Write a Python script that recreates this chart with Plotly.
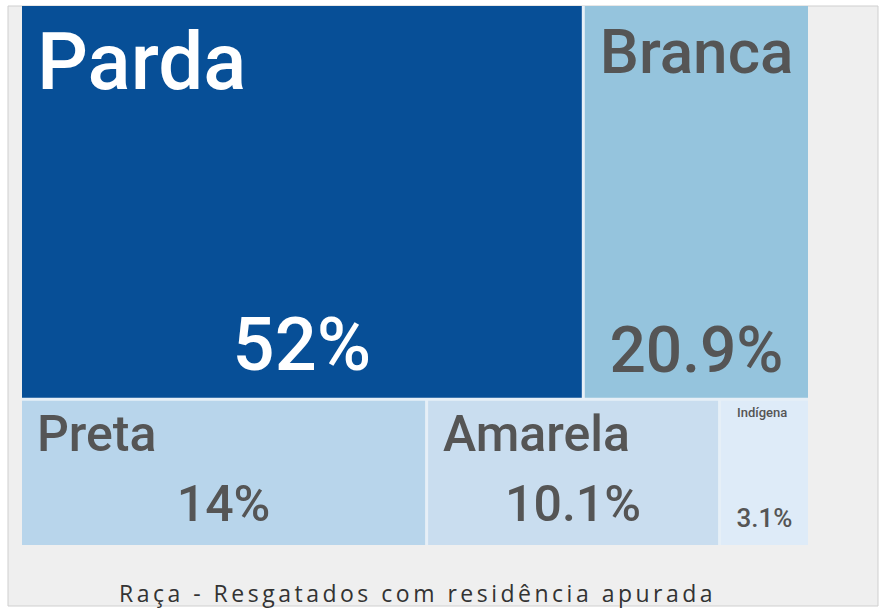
import plotly.graph_objects as go

# ---- data ----
categories = ["Parda", "Branca", "Preta", "Amarela", "Indígena"]
values = [52.0, 20.9, 14.0, 10.1, 3.1]
value_labels = ["52%", "20.9%", "14%", "10.1%", "3.1%"]
rows = ["top", "top", "bottom", "bottom", "bottom"]
colors = ["#074f97", "#95c4dd", "#b8d5eb", "#c9ddef", "#deebf8"]
text_colors = ["#ffffff", "#555555", "#555555", "#555555", "#555555"]
label_sizes = [80, 62, 50, 50, 13]
value_sizes = [74, 64, 50, 50, 26]
title_text = "Raça - Resgatados com residência apurada"

W, H = 885, 609
root = "root"
ids = [root, "top", "bottom"] + categories
parents = ["", root, root] + [r for r in rows]
vals = [0, 0, 0] + values
gap_color = "#e6eff7"
clear = "rgba(0,0,0,0)"
FONT = "Roboto, Arial, sans-serif"


def dom(top_px, bottom_px):
    return dict(x=[22 / W, 808 / W], y=[1 - bottom_px / H, 1 - top_px / H])


common = dict(
    ids=ids,
    labels=[""] * 3 + categories,
    parents=parents,
    values=vals,
    branchvalues="remainder",
    sort=False,
    tiling=dict(packing="dice-slice", pad=3),
    pathbar=dict(visible=False),
    hoverinfo="skip",
)

# label prefixes: small left indent
pad_big = "<span style='font-size:48px'>&nbsp;</span>"
label_templates = ["", "", ""] + [
    (pad_big if s > 40 else "&nbsp;" * 4) + "%{label}" for s in label_sizes
]

fig = go.Figure()
# tiles
fig.add_trace(go.Treemap(
    **common,
    domain=dom(6, 545),
    marker=dict(colors=[gap_color] * 3 + colors,
                line=dict(width=0, color=gap_color),
                pad=dict(t=0, l=0, r=0, b=0)),
    texttemplate=[""] * (3 + len(categories)),
    textinfo="none",
))
# category names
fig.add_trace(go.Treemap(
    **common,
    domain=dom(12, 545),
    marker=dict(colors=[clear] * (3 + len(categories)),
                line=dict(width=0, color=clear),
                pad=dict(t=0, l=0, r=0, b=0)),
    texttemplate=label_templates,
    textposition="top left",
    textfont=dict(family=FONT, size=[10, 10, 10] + label_sizes, weight=500,
                  color=["#555"] * 3 + text_colors),
))
# percentages
fig.add_trace(go.Treemap(
    **common,
    domain=dom(6, 536),
    text=["", "", ""] + value_labels,
    marker=dict(colors=[clear] * (3 + len(categories)),
                line=dict(width=0, color=clear),
                pad=dict(t=0, l=0, r=0, b=0)),
    texttemplate=["", "", ""] + ["%{text}"] * len(categories),
    textposition="bottom center",
    textfont=dict(family=FONT, size=[10, 10, 10] + value_sizes, weight=500,
                  color=["#555"] * 3 + text_colors),
))

fig.update_layout(
    width=W, height=H,
    margin=dict(l=0, r=0, t=0, b=0),
    paper_bgcolor="#ffffff",
    showlegend=False,
    shapes=[dict(type="rect", xref="paper", yref="paper",
                 x0=8 / W, x1=878 / W, y0=1 - 606 / H, y1=1 - 6 / H,
                 fillcolor="#efefef", line=dict(color="#cfcfcf", width=1),
                 layer="below")],
    annotations=[dict(text="<span style='letter-spacing:3.5px'>" + title_text + "</span>",
                      xref="paper", yref="paper",
                      x=417 / W, y=1 - 593 / H, xanchor="center", yanchor="middle",
                      showarrow=False,
                      font=dict(family="Open Sans, Noto Sans, sans-serif", size=23,
                                color="#333333"))],
)

fig.write_html("out.html", config=dict(displayModeBar=False),
               post_script="document.body.style.margin='0';document.body.style.overflow='hidden';")
